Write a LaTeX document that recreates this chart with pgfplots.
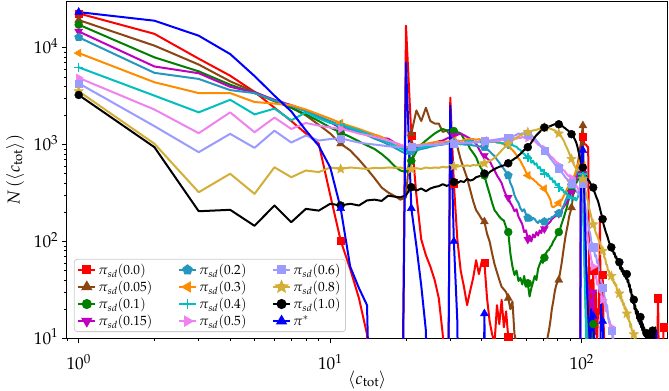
\documentclass[border=0pt]{standalone}
\usepackage{mathpazo}
\usepackage{pgfplots}
\pgfplotsset{compat=1.18}
\usepackage{pgfplotstable}
\usetikzlibrary{plotmarks}

\definecolor{cbrown}{HTML}{8B4513}
\definecolor{cgreen}{HTML}{008000}
\definecolor{cmag}{HTML}{BF00BF}
\definecolor{cteal}{HTML}{2596BE}
\definecolor{corange}{HTML}{FF8C00}
\definecolor{ccyan}{HTML}{00BFBF}
\definecolor{cviolet}{HTML}{EE82EE}
\definecolor{clb}{HTML}{9A9AFF}
\definecolor{ctan}{HTML}{D4AF37}

\pgfdeclareplotmark{fstar}{%
  \pgfpathmoveto{\pgfpointpolar{90}{\pgfplotmarksize}}%
  \pgfpathlineto{\pgfpointpolar{126}{0.45\pgfplotmarksize}}%
  \pgfpathlineto{\pgfpointpolar{162}{\pgfplotmarksize}}%
  \pgfpathlineto{\pgfpointpolar{198}{0.45\pgfplotmarksize}}%
  \pgfpathlineto{\pgfpointpolar{234}{\pgfplotmarksize}}%
  \pgfpathlineto{\pgfpointpolar{270}{0.45\pgfplotmarksize}}%
  \pgfpathlineto{\pgfpointpolar{306}{\pgfplotmarksize}}%
  \pgfpathlineto{\pgfpointpolar{342}{0.45\pgfplotmarksize}}%
  \pgfpathlineto{\pgfpointpolar{18}{\pgfplotmarksize}}%
  \pgfpathlineto{\pgfpointpolar{54}{0.45\pgfplotmarksize}}%
  \pgfpathclose\pgfusepathqfillstroke}

% pi_sd(0.0)
\pgfplotstableread[row sep=\\]{x y\\
1 22600\\ 2 13900\\ 3 7700\\ 4 5140\\ 5 3500\\ 6 2400\\ 7 1750\\ 8 1300\\ 9 1020\\ 10 300\\
11 102\\ 12 52\\ 13 26\\ 14 11\\ 15 0.01\\ 19 0.01\\ 20 16900\\ 21 1240\\ 22 300\\ 23 105\\
24 72\\ 25 55\\ 26 40\\ 27 26\\ 28 11\\ 29 0.01\\ 30 3050\\ 31 400\\ 32 105\\ 33 50\\
34 34\\ 35 22\\ 36 31\\ 37 42\\ 38 64\\ 39 46\\ 40 62\\ 41 60\\ 42 26\\ 43 15\\
44 11\\ 45 9\\ 46 22\\ 47 14\\ 48 25\\ 49 13\\ 50 19\\ 51 10.3\\ 52 6\\ 53 0.01\\
98 0.01\\ 99 950\\ 100 1100\\ 101 1200\\ 102 1050\\ 103 1000\\ 104 1000\\ 105 950\\ 106 950\\ 107 30\\
108 15\\ 109 40\\ 110 18\\ 111 50\\ 112 18\\ 113 11\\ 114 30\\ 115 9\\ 116 20\\ 117 18\\
118 180\\ 119 12\\ 120 25\\ 121 45\\ 122 15\\ 123 8\\ 124 0.01\\ 199 0.01\\ 200 13\\ 201 26\\
202 8\\ 210 0.01\\ 211 13\\ 212 0.01\\
}\tred
% pi_sd(0.05)
\pgfplotstableread[row sep=\\]{x y\\
1 19300\\ 2 10500\\ 3 6700\\ 4 4500\\ 5 3500\\ 6 2850\\ 7 2400\\ 8 2000\\ 9 1600\\ 10 1300\\
11 1020\\ 12 870\\ 13 700\\ 14 560\\ 15 450\\ 16 360\\ 17 320\\ 18 295\\ 19 270\\ 20 285\\
21 1300\\ 22 2250\\ 23 1750\\ 24 2400\\ 25 1750\\ 26 1650\\ 27 1650\\ 28 1350\\ 29 1400\\ 30 1250\\
31 1050\\ 32 950\\ 33 700\\ 34 560\\ 35 450\\ 36 340\\ 37 260\\ 38 210\\ 39 190\\ 40 170\\
41 160\\ 42 120\\ 43 100\\ 44 75\\ 45 58\\ 46 48\\ 47 40\\ 48 34\\ 49 32\\ 50 30\\
51 26\\ 52 20\\ 53 24\\ 54 11\\ 55 9\\ 56 0.01\\ 72 0.01\\ 73 10\\ 74 12\\ 75 15\\
76 20\\ 77 24\\ 78 30\\ 79 35\\ 80 38\\ 81 40\\ 82 48\\ 83 58\\ 84 72\\ 85 90\\
86 110\\ 87 130\\ 88 150\\ 89 180\\ 90 200\\ 91 224\\ 92 280\\ 93 350\\ 94 420\\ 95 500\\
96 600\\ 97 700\\ 98 850\\ 99 1000\\ 100 1300\\ 101 1570\\ 102 300\\ 103 120\\ 104 60\\ 105 35\\
106 20\\ 107 12\\ 108 0.01\\
}\tbrown
% pi_sd(0.1)
\pgfplotstableread[row sep=\\]{x y\\
1 17300\\ 2 7950\\ 3 5700\\ 4 4150\\ 5 3400\\ 6 2800\\ 7 2400\\ 8 2050\\ 9 1750\\ 10 1500\\
11 1330\\ 12 1200\\ 13 1080\\ 14 980\\ 15 900\\ 16 800\\ 17 700\\ 18 600\\ 19 540\\ 20 520\\
21 680\\ 22 850\\ 23 1000\\ 24 1100\\ 25 1200\\ 26 1300\\ 27 1380\\ 28 1450\\ 29 1400\\ 30 1420\\
31 1380\\ 32 1350\\ 33 1300\\ 34 1150\\ 35 1050\\ 36 900\\ 37 820\\ 38 740\\ 39 620\\ 40 560\\
41 480\\ 42 380\\ 43 310\\ 44 250\\ 45 210\\ 46 195\\ 47 180\\ 48 170\\ 49 164\\ 50 140\\
51 125\\ 52 75\\ 53 55\\ 54 45\\ 55 50\\ 56 39\\ 57 42\\ 58 36\\ 59 44\\ 60 34\\
61 37\\ 62 27\\ 63 33\\ 64 38\\ 65 44\\ 66 40\\ 67 52\\ 68 58\\ 69 64\\ 70 60\\
71 68\\ 72 75\\ 73 80\\ 74 82\\ 75 88\\ 76 92\\ 77 100\\ 78 105\\ 79 112\\ 80 118\\
81 125\\ 82 135\\ 83 150\\ 84 165\\ 85 180\\ 86 200\\ 87 220\\ 88 250\\ 89 280\\ 90 300\\
91 330\\ 92 350\\ 93 370\\ 94 385\\ 95 400\\ 96 420\\ 97 450\\ 98 500\\ 99 560\\ 100 700\\
101 500\\ 102 150\\ 103 60\\ 104 30\\ 105 20\\ 106 15\\ 107 12\\ 108 15\\ 109 10\\ 110 12\\
111 14\\ 112 0.01\\
}\tgreen
% pi_sd(0.15)
\pgfplotstableread[row sep=\\]{x y\\
1 14700\\ 2 6400\\ 3 5450\\ 4 3950\\ 5 3450\\ 6 2900\\ 7 2550\\ 8 2250\\ 9 1950\\ 10 1700\\
11 1480\\ 12 1400\\ 13 1320\\ 14 1260\\ 15 1200\\ 16 1170\\ 17 1150\\ 18 1050\\ 19 980\\ 20 900\\
21 910\\ 22 920\\ 23 940\\ 24 980\\ 25 1020\\ 26 1050\\ 27 1080\\ 28 1100\\ 29 1150\\ 30 1200\\
31 1230\\ 32 1260\\ 33 1300\\ 34 1250\\ 35 1200\\ 36 1150\\ 37 1080\\ 38 1020\\ 39 900\\ 40 800\\
41 770\\ 42 720\\ 43 680\\ 44 600\\ 45 540\\ 46 480\\ 47 440\\ 48 400\\ 49 340\\ 50 300\\
51 284\\ 52 250\\ 53 230\\ 54 205\\ 55 215\\ 56 180\\ 57 165\\ 58 150\\ 59 125\\ 60 130\\
61 105\\ 62 115\\ 63 100\\ 64 118\\ 65 110\\ 66 125\\ 67 115\\ 68 130\\ 69 122\\ 70 140\\
71 135\\ 72 140\\ 73 150\\ 74 155\\ 75 160\\ 76 170\\ 77 175\\ 78 180\\ 79 185\\ 80 190\\
81 194\\ 82 200\\ 83 208\\ 84 220\\ 85 230\\ 86 240\\ 87 250\\ 88 265\\ 89 280\\ 90 300\\
91 320\\ 92 350\\ 93 380\\ 94 410\\ 95 450\\ 96 480\\ 97 520\\ 98 560\\ 99 600\\ 100 750\\
101 500\\ 102 150\\ 103 80\\ 104 50\\ 105 40\\ 106 33\\ 107 28\\ 108 25\\ 109 22\\ 110 20\\
111 30\\ 112 12\\ 113 0.01\\
}\tmag
% pi_sd(0.2)
\pgfplotstableread[row sep=\\]{x y\\
1 12800\\ 2 5500\\ 3 4760\\ 4 3650\\ 5 3400\\ 6 2850\\ 7 2500\\ 8 2200\\ 9 1950\\ 10 1750\\
11 1570\\ 12 1450\\ 13 1350\\ 14 1250\\ 15 1150\\ 16 1080\\ 17 1000\\ 18 930\\ 19 860\\ 20 800\\
21 850\\ 22 870\\ 23 900\\ 24 920\\ 25 950\\ 26 970\\ 27 990\\ 28 1000\\ 29 1030\\ 30 1050\\
31 1060\\ 32 1040\\ 33 1020\\ 34 1000\\ 35 1000\\ 36 990\\ 37 980\\ 38 970\\ 39 960\\ 40 950\\
41 940\\ 42 900\\ 43 850\\ 44 800\\ 45 760\\ 46 700\\ 47 650\\ 48 600\\ 49 560\\ 50 520\\
51 480\\ 52 400\\ 53 360\\ 54 300\\ 55 270\\ 56 250\\ 57 220\\ 58 205\\ 59 215\\ 60 190\\
61 175\\ 62 185\\ 63 165\\ 64 175\\ 65 170\\ 66 160\\ 67 155\\ 68 165\\ 69 158\\ 70 162\\
71 160\\ 72 168\\ 73 165\\ 74 172\\ 75 170\\ 76 178\\ 77 180\\ 78 186\\ 79 190\\ 80 192\\
81 195\\ 82 205\\ 83 210\\ 84 225\\ 85 240\\ 86 260\\ 87 280\\ 88 300\\ 89 330\\ 90 350\\
91 380\\ 92 410\\ 93 440\\ 94 470\\ 95 500\\ 96 530\\ 97 560\\ 98 590\\ 99 620\\ 100 700\\
101 450\\ 102 120\\ 103 40\\ 104 20\\ 105 12\\ 106 0.01\\
}\tteal
% pi_sd(0.3)
\pgfplotstableread[row sep=\\]{x y\\
1 8800\\ 2 4400\\ 3 3400\\ 4 3400\\ 5 2750\\ 6 2650\\ 7 2550\\ 8 2300\\ 9 2050\\ 10 1850\\
11 1670\\ 12 1550\\ 13 1450\\ 14 1350\\ 15 1270\\ 16 1200\\ 17 1100\\ 18 1040\\ 19 980\\ 20 940\\
21 950\\ 22 980\\ 23 1000\\ 24 1020\\ 25 1040\\ 26 1060\\ 27 1060\\ 28 1060\\ 29 1070\\ 30 1080\\
31 1100\\ 32 1100\\ 33 1080\\ 34 1120\\ 35 1130\\ 36 1140\\ 37 1140\\ 38 1120\\ 39 1140\\ 40 1110\\
41 1100\\ 42 1090\\ 43 1100\\ 44 1060\\ 45 1080\\ 46 1050\\ 47 1040\\ 48 1030\\ 49 1010\\ 50 1000\\
51 980\\ 52 920\\ 53 880\\ 54 830\\ 55 780\\ 56 720\\ 57 680\\ 58 620\\ 59 570\\ 60 520\\
61 480\\ 62 470\\ 63 450\\ 64 440\\ 65 420\\ 66 410\\ 67 390\\ 68 380\\ 69 370\\ 70 350\\
71 350\\ 72 330\\ 73 310\\ 74 290\\ 75 270\\ 76 230\\ 77 225\\ 78 230\\ 79 235\\ 80 240\\
81 250\\ 82 260\\ 83 265\\ 84 280\\ 85 300\\ 86 320\\ 87 340\\ 88 360\\ 89 380\\ 90 400\\
91 420\\ 92 440\\ 93 470\\ 94 500\\ 95 550\\ 96 600\\ 97 650\\ 98 700\\ 99 800\\ 100 900\\
101 600\\ 102 150\\ 103 40\\ 104 15\\ 105 0.01\\
}\torange
% pi_sd(0.4)
\pgfplotstableread[row sep=\\]{x y\\
1 6270\\ 2 3200\\ 3 2150\\ 4 2900\\ 5 2050\\ 6 2350\\ 7 1780\\ 8 2150\\ 9 1860\\ 10 1670\\
11 1600\\ 12 1500\\ 13 1400\\ 14 1300\\ 15 1200\\ 16 1120\\ 17 1060\\ 18 980\\ 19 920\\ 20 860\\
21 880\\ 22 900\\ 23 930\\ 24 950\\ 25 970\\ 26 990\\ 27 1000\\ 28 1020\\ 29 1040\\ 30 1050\\
31 1060\\ 32 1030\\ 33 1000\\ 34 1050\\ 35 1080\\ 36 1100\\ 37 1070\\ 38 1050\\ 39 1060\\ 40 1050\\
41 1070\\ 42 1080\\ 43 1060\\ 44 1080\\ 45 1070\\ 46 1050\\ 47 1060\\ 48 1030\\ 49 1040\\ 50 1000\\
51 1010\\ 52 980\\ 53 990\\ 54 960\\ 55 950\\ 56 900\\ 57 880\\ 58 820\\ 59 800\\ 60 760\\
61 730\\ 62 760\\ 63 650\\ 64 680\\ 65 620\\ 66 640\\ 67 570\\ 68 590\\ 69 530\\ 70 550\\
71 500\\ 72 510\\ 73 470\\ 74 480\\ 75 440\\ 76 450\\ 77 410\\ 78 420\\ 79 380\\ 80 390\\
81 360\\ 82 365\\ 83 340\\ 84 345\\ 85 320\\ 86 325\\ 87 305\\ 88 310\\ 89 290\\ 90 295\\
91 280\\ 92 285\\ 93 270\\ 94 275\\ 95 265\\ 96 280\\ 97 300\\ 98 350\\ 99 450\\ 100 700\\
101 500\\ 102 100\\ 103 30\\ 104 12\\ 105 0.01\\
}\tcyan
% pi_sd(0.5)
\pgfplotstableread[row sep=\\]{x y\\
1 4880\\ 2 2300\\ 3 1310\\ 4 2150\\ 5 1340\\ 6 1900\\ 7 1450\\ 8 1670\\ 9 1570\\ 10 1500\\
11 1450\\ 12 1380\\ 13 1300\\ 14 1250\\ 15 1200\\ 16 1150\\ 17 1100\\ 18 1050\\ 19 1000\\ 20 950\\
21 960\\ 22 980\\ 23 970\\ 24 1000\\ 25 990\\ 26 1010\\ 27 1000\\ 28 1030\\ 29 1020\\ 30 1050\\
31 1040\\ 32 1020\\ 33 1060\\ 34 1040\\ 35 1050\\ 36 1030\\ 37 1060\\ 38 1050\\ 39 1070\\ 40 1060\\
41 1050\\ 42 1080\\ 43 1070\\ 44 1090\\ 45 1080\\ 46 1100\\ 47 1090\\ 48 1120\\ 49 1110\\ 50 1130\\
51 1120\\ 52 1150\\ 53 1140\\ 54 1170\\ 55 1150\\ 56 1180\\ 57 1160\\ 58 1200\\ 59 1180\\ 60 1200\\
61 1170\\ 62 1150\\ 63 1120\\ 64 1100\\ 65 1080\\ 66 1040\\ 67 1000\\ 68 980\\ 69 950\\ 70 920\\
71 900\\ 72 860\\ 73 830\\ 74 800\\ 75 760\\ 76 740\\ 77 720\\ 78 690\\ 79 660\\ 80 640\\
81 610\\ 82 590\\ 83 570\\ 84 550\\ 85 540\\ 86 520\\ 87 500\\ 88 480\\ 89 470\\ 90 460\\
91 450\\ 92 440\\ 93 425\\ 94 400\\ 95 380\\ 96 360\\ 97 340\\ 98 330\\ 99 350\\ 100 600\\
101 400\\ 102 250\\ 103 180\\ 104 140\\ 105 120\\ 106 100\\ 107 85\\ 108 75\\ 109 65\\ 110 60\\
111 55\\ 112 48\\ 113 42\\ 114 44\\ 115 36\\ 116 38\\ 117 33\\ 118 30\\ 119 31\\ 120 27\\
121 25\\ 122 26\\ 123 23\\ 124 21\\ 125 19\\ 126 20\\ 127 17\\ 128 16\\ 129 15\\ 130 14\\
131 13\\ 132 12\\ 133 11\\ 134 9\\ 135 0.01\\
}\tviolet
% pi_sd(0.6)
\pgfplotstableread[row sep=\\]{x y\\
1 4290\\ 2 1550\\ 3 834\\ 4 1290\\ 5 925\\ 6 1390\\ 7 1050\\ 8 1240\\ 9 1100\\ 10 1140\\
11 1160\\ 12 1100\\ 13 1050\\ 14 1020\\ 15 1000\\ 16 980\\ 17 960\\ 18 950\\ 19 940\\ 20 930\\
21 950\\ 22 960\\ 23 980\\ 24 990\\ 25 1000\\ 26 990\\ 27 1010\\ 28 1000\\ 29 1020\\ 30 1010\\
31 1030\\ 32 1020\\ 33 1040\\ 34 1030\\ 35 1050\\ 36 1040\\ 37 1060\\ 38 1050\\ 39 1080\\ 40 1070\\
41 1090\\ 42 1080\\ 43 1100\\ 44 1110\\ 45 1120\\ 46 1130\\ 47 1140\\ 48 1150\\ 49 1160\\ 50 1170\\
51 1180\\ 52 1200\\ 53 1220\\ 54 1240\\ 55 1260\\ 56 1300\\ 57 1280\\ 58 1310\\ 59 1290\\ 60 1300\\
61 1280\\ 62 1260\\ 63 1250\\ 64 1200\\ 65 1160\\ 66 1100\\ 67 1050\\ 68 1000\\ 69 950\\ 70 910\\
71 870\\ 72 830\\ 73 790\\ 74 760\\ 75 720\\ 76 690\\ 77 660\\ 78 630\\ 79 600\\ 80 580\\
81 570\\ 82 540\\ 83 520\\ 84 500\\ 85 480\\ 86 460\\ 87 445\\ 88 430\\ 89 420\\ 90 410\\
91 400\\ 92 380\\ 93 360\\ 94 345\\ 95 330\\ 96 320\\ 97 310\\ 98 300\\ 99 320\\ 100 600\\
101 400\\ 102 300\\ 103 250\\ 104 200\\ 105 170\\ 106 150\\ 107 130\\ 108 120\\ 109 100\\ 110 95\\
111 87\\ 112 80\\ 113 70\\ 114 72\\ 115 60\\ 116 62\\ 117 50\\ 118 48\\ 119 40\\ 120 37\\
121 33\\ 122 34\\ 123 27\\ 124 25\\ 125 21\\ 126 22\\ 127 17\\ 128 15\\ 129 14\\ 130 13\\
131 12\\ 132 11\\ 133 9\\ 134 0.01\\
}\tlb
% pi_sd(0.8)
\pgfplotstableread[row sep=\\]{x y\\
1 3550\\ 2 1020\\ 3 322\\ 4 500\\ 5 310\\ 6 583\\ 7 460\\ 8 540\\ 9 520\\ 10 580\\
11 560\\ 12 580\\ 13 570\\ 14 560\\ 15 575\\ 16 570\\ 17 580\\ 18 575\\ 19 580\\ 20 560\\
21 555\\ 22 570\\ 23 560\\ 24 580\\ 25 570\\ 26 580\\ 27 575\\ 28 590\\ 29 580\\ 30 595\\
31 600\\ 32 590\\ 33 605\\ 34 600\\ 35 610\\ 36 600\\ 37 615\\ 38 610\\ 39 620\\ 40 630\\
41 640\\ 42 660\\ 43 680\\ 44 700\\ 45 730\\ 46 770\\ 47 820\\ 48 870\\ 49 920\\ 50 970\\
51 1020\\ 52 1060\\ 53 1100\\ 54 1140\\ 55 1180\\ 56 1210\\ 57 1240\\ 58 1270\\ 59 1300\\ 60 1320\\
61 1340\\ 62 1360\\ 63 1380\\ 64 1400\\ 65 1410\\ 66 1420\\ 67 1440\\ 68 1460\\ 69 1470\\ 70 1490\\
71 1500\\ 72 1490\\ 73 1480\\ 74 1470\\ 75 1460\\ 76 1440\\ 77 1420\\ 78 1400\\ 79 1370\\ 80 1340\\
81 1300\\ 82 1250\\ 83 1200\\ 84 1140\\ 85 1080\\ 86 1000\\ 87 940\\ 88 880\\ 89 820\\ 90 760\\
91 710\\ 92 660\\ 93 620\\ 94 590\\ 95 560\\ 96 550\\ 97 540\\ 98 540\\ 99 530\\ 100 500\\
101 440\\ 102 400\\ 103 350\\ 104 310\\ 105 280\\ 106 250\\ 107 220\\ 108 200\\ 109 180\\ 110 164\\
111 150\\ 112 140\\ 113 130\\ 114 120\\ 115 115\\ 116 108\\ 117 102\\ 118 98\\ 119 90\\ 120 85\\
121 80\\ 122 76\\ 123 68\\ 124 66\\ 125 58\\ 126 57\\ 127 50\\ 128 50\\ 129 45\\ 130 46\\
131 44\\ 132 40\\ 133 41\\ 134 37\\ 135 38\\ 136 35\\ 137 36\\ 138 31\\ 139 32\\ 140 29\\
141 29\\ 142 26\\ 143 27\\ 144 24\\ 145 25\\ 146 22\\ 147 23\\ 148 20\\ 149 21\\ 150 19\\
151 18\\ 152 16\\ 153 17\\ 154 15\\ 155 15\\ 156 13\\ 157 14\\ 158 12\\ 159 12\\ 160 11\\
161 11\\ 162 10\\ 163 9\\ 164 0.01\\
}\ttan
% pi_sd(1.0)
\pgfplotstableread[row sep=\\]{x y\\
1 3250\\ 2 940\\ 3 205\\ 4 212\\ 5 145\\ 6 235\\ 7 158\\ 8 217\\ 9 208\\ 10 245\\
11 235\\ 12 245\\ 13 235\\ 14 265\\ 15 270\\ 16 262\\ 17 297\\ 18 290\\ 19 285\\ 20 300\\
21 363\\ 22 335\\ 23 352\\ 24 330\\ 25 352\\ 26 365\\ 27 372\\ 28 390\\ 29 375\\ 30 385\\
31 410\\ 32 400\\ 33 420\\ 34 410\\ 35 443\\ 36 425\\ 37 435\\ 38 460\\ 39 470\\ 40 480\\
41 502\\ 42 490\\ 43 520\\ 44 540\\ 45 560\\ 46 575\\ 47 590\\ 48 600\\ 49 610\\ 50 630\\
51 641\\ 52 670\\ 53 690\\ 54 715\\ 55 737\\ 56 770\\ 57 800\\ 58 840\\ 59 880\\ 60 910\\
61 940\\ 62 990\\ 63 1050\\ 64 1120\\ 65 1190\\ 66 1250\\ 67 1300\\ 68 1350\\ 69 1400\\ 70 1460\\
71 1500\\ 72 1510\\ 73 1520\\ 74 1540\\ 75 1550\\ 76 1580\\ 77 1600\\ 78 1620\\ 79 1640\\ 80 1650\\
81 1620\\ 82 1600\\ 83 1580\\ 84 1540\\ 85 1500\\ 86 1470\\ 87 1430\\ 88 1400\\ 89 1360\\ 90 1320\\
91 1280\\ 92 1230\\ 93 1180\\ 94 1120\\ 95 1050\\ 96 960\\ 97 850\\ 98 760\\ 99 680\\ 100 620\\
101 580\\ 102 540\\ 103 500\\ 104 475\\ 105 450\\ 106 430\\ 107 420\\ 108 400\\ 109 385\\ 110 370\\
111 360\\ 112 330\\ 113 310\\ 114 290\\ 115 275\\ 116 260\\ 117 240\\ 118 220\\ 119 200\\ 120 185\\
121 170\\ 122 150\\ 123 140\\ 124 130\\ 125 122\\ 126 115\\ 127 108\\ 128 100\\ 129 95\\ 130 90\\
131 87\\ 132 80\\ 133 82\\ 134 74\\ 135 76\\ 136 68\\ 137 70\\ 138 63\\ 139 66\\ 140 58\\
141 61\\ 142 52\\ 143 56\\ 144 49\\ 145 53\\ 146 46\\ 147 50\\ 148 44\\ 149 47\\ 150 41\\
151 46\\ 152 38\\ 153 40\\ 154 34\\ 155 36\\ 156 30\\ 157 32\\ 158 26\\ 159 28\\ 160 23\\
161 25\\ 162 20\\ 163 22\\ 164 18\\ 165 20\\ 166 16\\ 167 19\\ 168 15\\ 169 17\\ 170 14\\
171 16.6\\ 172 13\\ 173 15\\ 174 12\\ 175 14\\ 176 11\\ 177 13\\ 178 10.5\\ 179 12\\ 180 10\\
181 11.3\\ 182 9.5\\ 183 10.5\\ 184 9\\ 185 10\\ 186 8.5\\ 187 10.5\\ 188 11\\ 189 9.5\\ 190 11.5\\
191 12\\ 192 9.5\\ 193 9\\ 194 11\\ 195 12\\ 196 13\\ 197 10\\ 198 8\\ 199 0.01\\
}\tblack
% pi*
\pgfplotstableread[row sep=\\]{x y\\
1 23300\\ 2 19000\\ 3 13300\\ 4 8600\\ 5 5100\\ 6 3200\\ 7 2200\\ 8 1400\\ 9 970\\ 10 580\\
11 220\\ 12 55\\ 13 33\\ 14 22\\ 15 0.01\\ 19 0.01\\ 20 7000\\ 21 220\\ 22 90\\ 23 35\\
24 12\\ 25 0.01\\ 29 0.01\\ 30 2520\\ 31 100\\ 32 15\\ 33 0.01\\ 40 0.01\\ 41 18\\ 42 0.01\\
98 0.01\\ 99 250\\ 100 940\\ 101 870\\ 102 400\\ 103 150\\ 104 60\\ 105 30\\ 106 18\\ 107 12\\
108 8\\ 109 20\\ 110 12\\ 111 17\\ 112 9\\ 113 0.01\\ 118 0.01\\ 119 25\\ 120 16\\ 121 15\\
122 8\\ 123 0.01\\ 197 0.01\\ 198 12\\ 199 0.01\\
}\tblue

\newcommand{\ser}[3]{%
  \addplot[#2, line width=2bp, line join=round, no markers, forget plot] table[x=x,y=y]{#1};
  \addplot[#2, only marks, #3, forget plot,
    restrict expr to domain={mod(\thisrow{x}+9,10)}{-0.1:0.1}] table[x=x,y=y]{#1};
}

\begin{document}
\begin{tikzpicture}
\path[use as bounding box] (-66.7bp,-52.7bp) rectangle (602.3bp,338.3bp);
\begin{axis}[
  at={(0,0)}, anchor=south west,
  scale only axis, width=601bp, height=336.6bp,
  xmode=log, ymode=log,
  xmin=0.896, xmax=219.5, ymin=10, ymax=29850,
  axis line style={line width=1.1bp, black},
  tick align=outside, tick pos=left,
  major tick length=4.9bp, minor tick length=2.8bp,
  every tick/.style={black, line width=0.9bp},
  every minor tick/.style={black, line width=0.7bp},
  tick label style={font=\fontsize{17.3}{20}\selectfont, inner sep=0pt},
  xticklabel style={anchor=base, yshift=-26.7bp},
  yticklabel style={anchor=base east, yshift=-5.9bp, xshift=-3.4bp},
  every axis x label/.style={at={(axis description cs:0.5,-0.1358)}, anchor=base, font=\fontsize{17.3}{20}\selectfont},
  every axis y label/.style={at={(axis description cs:-0.0785,0.5)}, rotate=90, anchor=base, font=\fontsize{17.3}{20}\selectfont},
  xlabel={$\langle c_{\mathrm{tot}}\rangle$},
  ylabel={$N\left(\langle c_{\mathrm{tot}}\rangle\right)$},
  every mark/.append style={solid, line width=1bp},
  legend columns=3,
  legend cell align=left,
  legend image code/.code={\draw[mark repeat=2,mark phase=2] plot coordinates {(0bp,0bp) (8.5bp,0bp) (17bp,0bp)};},
  legend style={at={(0.012,0.0187)}, anchor=south west,
    draw=black!20, line width=0.8bp, rounded corners=3bp, fill=white,
    font=\fontsize{13.4}{15}\selectfont,
    inner xsep=3bp, inner ysep=2.5bp, row sep=1.2bp,
    /tikz/every even column/.append style={column sep=23.5bp}},
]
\ser{\tred}{red}{mark=square*, mark size=3.6bp}
\ser{\tbrown}{cbrown}{mark=triangle*, mark size=4.6bp}
\ser{\tgreen}{cgreen}{mark=*, mark size=4bp}
\ser{\tmag}{cmag}{mark=triangle*, mark size=4.6bp, mark options={rotate=180}}
\ser{\tteal}{cteal}{mark=pentagon*, mark size=4.3bp}
\ser{\torange}{corange}{mark=triangle*, mark size=4.6bp, mark options={rotate=90}}
\ser{\tcyan}{ccyan}{mark=+, mark size=4.6bp, mark options={line width=1.6bp}}
\ser{\tviolet}{cviolet}{mark=triangle*, mark size=4.6bp, mark options={rotate=-90}}
\ser{\tlb}{clb}{mark=square*, mark size=3.6bp}
\ser{\ttan}{ctan}{mark=fstar, mark size=5bp}
\ser{\tblack}{black}{mark=*, mark size=4bp}
\ser{\tblue}{blue}{mark=triangle*, mark size=4.6bp}

\addlegendimage{red, line width=2bp, mark=square*, mark size=3.6bp}
\addlegendentry{$\pi_{sd}(0.0)$}
\addlegendimage{cteal, line width=2bp, mark=pentagon*, mark size=4.3bp}
\addlegendentry{$\pi_{sd}(0.2)$}
\addlegendimage{clb, line width=2bp, mark=square*, mark size=3.6bp}
\addlegendentry{$\pi_{sd}(0.6)$}
\addlegendimage{cbrown, line width=2bp, mark=triangle*, mark size=4.6bp}
\addlegendentry{$\pi_{sd}(0.05)$}
\addlegendimage{corange, line width=2bp, mark=triangle*, mark size=4.6bp, mark options={rotate=90}}
\addlegendentry{$\pi_{sd}(0.3)$}
\addlegendimage{ctan, line width=2bp, mark=fstar, mark size=5bp}
\addlegendentry{$\pi_{sd}(0.8)$}
\addlegendimage{cgreen, line width=2bp, mark=*, mark size=4bp}
\addlegendentry{$\pi_{sd}(0.1)$}
\addlegendimage{ccyan, line width=2bp, mark=+, mark size=4.6bp, mark options={line width=1.6bp}}
\addlegendentry{$\pi_{sd}(0.4)$}
\addlegendimage{black, line width=2bp, mark=*, mark size=4bp}
\addlegendentry{$\pi_{sd}(1.0)$}
\addlegendimage{cmag, line width=2bp, mark=triangle*, mark size=4.6bp, mark options={rotate=180}}
\addlegendentry{$\pi_{sd}(0.15)$}
\addlegendimage{cviolet, line width=2bp, mark=triangle*, mark size=4.6bp, mark options={rotate=-90}}
\addlegendentry{$\pi_{sd}(0.5)$}
\addlegendimage{blue, line width=2bp, mark=triangle*, mark size=4.6bp}
\addlegendentry{$\pi^{*}$}
\end{axis}
\end{tikzpicture}
\end{document}
